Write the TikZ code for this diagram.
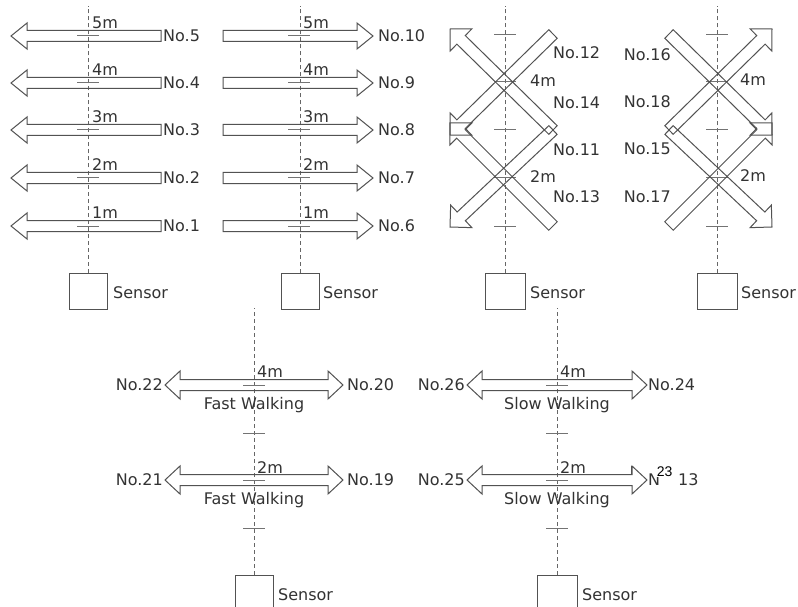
\documentclass[tikz,border=0pt]{standalone}
\usepackage{fontspec}
\setmainfont{DejaVu Sans}
\newfontfamily\supfont{Liberation Sans}
\usetikzlibrary{calc}
\tikzset{
 lbl/.style={font=\fontsize{16}{18}\selectfont, text=black!80, inner sep=0pt, text height=11.7pt, text depth=0pt},
 arrowline/.style={draw=black!68, line width=1pt, line join=miter},
 dashline/.style={draw=black!60, line width=1pt, dash pattern=on 4pt off 3pt},
 tickline/.style={draw=black!55, line width=1pt},
 sensorbox/.style={draw=black!68, line width=1pt, minimum width=38pt, minimum height=36pt, inner sep=0pt},
}
\def\ahl{16}\def\ahw{13}\def\asw{5.5}
\newcommand\blockarrow[4]{%
 \pgfmathsetmacro\bdx{#3-#1}%
 \pgfmathsetmacro\bdy{#4-#2}%
 \pgfmathsetmacro\bang{atan2(-\bdy,\bdx)}%
 \pgfmathsetmacro\blen{veclen(\bdx,\bdy)}%
 \pgfmathsetmacro\bbk{\blen-\ahl}%
 \draw[arrowline,shift={(#1,#2)},rotate=\bang] (0,\asw) -- (\bbk,\asw) -- (\bbk,\ahw) -- (\blen,0) -- (\bbk,-\ahw) -- (\bbk,-\asw) -- (0,-\asw) -- cycle;}
\newcommand\dblarrow[3]{%
 \draw[arrowline] (#1,#3) -- (#1+\ahl,#3-\ahw) -- (#1+\ahl,#3-\asw) -- (#2-\ahl,#3-\asw) -- (#2-\ahl,#3-\ahw) -- (#2,#3) -- (#2-\ahl,#3+\ahw) -- (#2-\ahl,#3+\asw) -- (#1+\ahl,#3+\asw) -- (#1+\ahl,#3+\ahw) -- cycle;}
\newcommand\tickmark[2]{\draw[tickline] (#1-11,#2) -- (#1+11,#2);}
\begin{document}
\begin{tikzpicture}[x=1pt,y=-1pt]
\useasboundingbox[fill=white] (0,0) rectangle (798,607);

% ---------- sensors and dashed axes ----------
\node[sensorbox] (sA) at (88,291) {};
\node[sensorbox] (sB) at (300,291) {};
\node[sensorbox, minimum width=40pt] (sC) at (505,291) {};
\node[sensorbox, minimum width=40pt] (sD) at (717,291) {};
\node[sensorbox] (sE) at (254,593) {};
\node[sensorbox, minimum width=40pt] (sF) at (557,593) {};
\coordinate (tA) at (88,6);
\coordinate (tB) at (300,6);
\coordinate (tC) at (505,6);
\coordinate (tD) at (717,6);
\coordinate (tE) at (254,308);
\coordinate (tF) at (557,308);
\foreach \s in {A,B,C,D,E,F} {\draw[dashline] (s\s.north) -- (t\s);}
\node[lbl, anchor=west] (senA) at (113,293) {Sensor};
\node[lbl, anchor=west] (senB) at (323,293) {Sensor};
\node[lbl, anchor=west] (senC) at (530,293) {Sensor};
\node[lbl, anchor=west] (senD) at (741,293) {Sensor};
\node[lbl, anchor=west] (senE) at (278,595) {Sensor};
\node[lbl, anchor=west] (senF) at (582,595) {Sensor};

% ---------- panel A and B ----------
\foreach \y/\m/\a/\b in {36/5/5/10, 83/4/4/9, 130/3/3/8, 178/2/2/7, 226/1/1/6} {
  \tickmark{88}{\y}
  \tickmark{299}{\y}
  \blockarrow{161}{\y}{11}{\y}
  \blockarrow{223}{\y}{373}{\y}
  \node[lbl, anchor=west] (mA\m) at (92,\y-13) {\m m};
  \node[lbl, anchor=west] (mB\m) at (303,\y-13) {\m m};
  \node[lbl, anchor=west] (nA\m) at (163,\y) {No.\a};
  \node[lbl, anchor=west] (nB\m) at (378,\y) {No.\b};
}

% ---------- panel C and D ----------
\foreach \y in {35,82,130,178,226} {\tickmark{505}{\y}\tickmark{717}{\y}}
\def\ahl{15.5}\def\ahw{15.5}\def\asw{6}
\blockarrow{553}{130}{450}{29}
\blockarrow{553}{34}{450}{135}
\blockarrow{553}{226}{450}{123}
\blockarrow{553}{130}{450}{227}
\blockarrow{669}{130}{772}{29}
\blockarrow{669}{34}{772}{135}
\blockarrow{669}{226}{772}{123}
\blockarrow{669}{130}{772}{227}
\node[lbl, anchor=west] (n12) at (553,53) {No.12};
\node[lbl, anchor=west] (n14) at (553,103) {No.14};
\node[lbl, anchor=west] (n11) at (553,150) {No.11};
\node[lbl, anchor=west] (n13) at (553,197) {No.13};
\node[lbl, anchor=west] (mC4) at (530,81) {4m};
\node[lbl, anchor=west] (mC2) at (530,177) {2m};
\node[lbl, anchor=east] (n16) at (671,55) {No.16};
\node[lbl, anchor=east] (n18) at (671,102) {No.18};
\node[lbl, anchor=east] (n15) at (671,149) {No.15};
\node[lbl, anchor=east] (n17) at (671,197) {No.17};
\node[lbl, anchor=west] (mD4) at (740,80) {4m};
\node[lbl, anchor=west] (mD2) at (740,176) {2m};

% ---------- panel E and F ----------
\foreach \y in {385,433,480,528} {\tickmark{254}{\y}\tickmark{557}{\y}}
\def\ahl{15}\def\ahw{14}\def\asw{5.5}
\dblarrow{165}{343}{385}
\dblarrow{165}{343}{480}
\dblarrow{467}{647}{385}
\dblarrow{467}{647}{480}
\draw[arrowline] (631,466) -- (631,474.5);
\node[lbl, anchor=east] (n22) at (163,385) {No.22};
\node[lbl, anchor=west] (n20) at (347,385) {No.20};
\node[lbl, anchor=east] (n21) at (163,480) {No.21};
\node[lbl, anchor=west] (n19) at (347,480) {No.19};
\node[lbl, anchor=west] (mE4) at (257,372) {4m};
\node[lbl, anchor=west] (mE2) at (257,468) {2m};
\node[lbl] (fw1) at (254,403.5) {Fast Walking};
\node[lbl] (fw2) at (254,498.5) {Fast Walking};
\node[lbl, anchor=east] (n26) at (465,385) {No.26};
\node[lbl, anchor=west] (n24) at (648,385) {No.24};
\node[lbl, anchor=east] (n25) at (465,480) {No.25};
\node[lbl, anchor=west] (nN) at (648,480) {N};
\node[anchor=west, inner sep=0.6pt, fill=white, font=\supfont\fontsize{14}{16}\selectfont, text=black] (n23) at (656,471.5) {23};
\node[lbl, anchor=west] (n13b) at (678,480) {13};
\node[lbl, anchor=west] (mF4) at (560,372) {4m};
\node[lbl, anchor=west] (mF2) at (560,468) {2m};
\node[lbl] (sw1) at (557,403.5) {Slow Walking};
\node[lbl] (sw2) at (557,498.5) {Slow Walking};
\end{tikzpicture}
\end{document}
